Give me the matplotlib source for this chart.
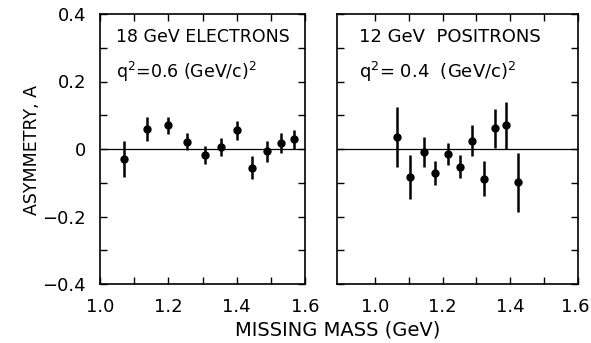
import matplotlib
matplotlib.use('Agg')
import matplotlib.pyplot as plt
import matplotlib.transforms as mtransforms
from matplotlib.ticker import MultipleLocator, FixedLocator

# left panel: 18 GeV electrons
mass_e = [1.07, 1.137, 1.198, 1.254, 1.306, 1.355, 1.40, 1.446, 1.488, 1.529, 1.568]
asym_e = [-0.030, 0.060, 0.070, 0.022, -0.018, 0.006, 0.055, -0.056, -0.007, 0.018, 0.029]
err_e = [0.054, 0.035, 0.025, 0.026, 0.027, 0.027, 0.028, 0.034, 0.032, 0.030, 0.028]

# right panel: 12 GeV positrons
mass_p = [1.064, 1.103, 1.144, 1.179, 1.216, 1.252, 1.287, 1.322, 1.355, 1.388, 1.422]
asym_p = [0.035, -0.083, -0.008, -0.071, -0.015, -0.052, 0.025, -0.088, 0.061, 0.070, -0.099]
err_p = [0.088, 0.065, 0.045, 0.036, 0.032, 0.035, 0.046, 0.051, 0.057, 0.070, 0.087]

x_labels = ['1.0', '1.2', '1.4', '1.6']
y_labels = ['\u22120.4', '\u22120.2', '0', '0.2', '0.4']

plt.rcParams['font.family'] = ['DejaVu Sans']
fig = plt.figure(figsize=(5.91, 3.43), dpi=100)
ax1 = fig.add_axes([100 / 591, 1 - 284 / 343, 205 / 591, 270 / 343])
ax2 = fig.add_axes([337 / 591, 1 - 284 / 343, 241 / 591, 270 / 343])


def style(ax, xlim, labels_y):
    ax.set_xlim(*xlim)
    ax.set_ylim(-0.4, 0.4)
    ax.axhline(0, color='black', lw=0.9)
    ax.xaxis.set_major_locator(FixedLocator([1.0, 1.2, 1.4, 1.6]))
    ax.set_xticklabels(x_labels)
    ax.xaxis.set_minor_locator(FixedLocator([1.1, 1.3, 1.5]))
    ax.yaxis.set_major_locator(FixedLocator([-0.4, -0.2, 0, 0.2, 0.4]))
    ax.yaxis.set_minor_locator(MultipleLocator(0.1))
    if labels_y:
        ax.set_yticklabels(y_labels)
    else:
        ax.set_yticklabels([])
    ax.tick_params(which='both', direction='in', top=True, right=True,
                   length=5, width=1, labelsize=13)
    ax.tick_params(axis='x', pad=10)
    ax.tick_params(axis='y', pad=10)
    for s in ax.spines.values():
        s.set_linewidth(1.2)


style(ax1, (1.0, 1.6), True)
style(ax2, (0.888, 1.6), False)

# last label of the right panel sits a bit inward so it stays on the page
last = ax2.get_xticklabels()[-1]
last.set_transform(last.get_transform() +
                   mtransforms.ScaledTranslation(-3 / 100, 0, fig.dpi_scale_trans))

ax1.errorbar(mass_e, asym_e, yerr=err_e, fmt='o', color='black',
             ms=5, elinewidth=1.8, capsize=0)
ax2.errorbar(mass_p, asym_p, yerr=err_p, fmt='o', color='black',
             ms=5, elinewidth=1.8, capsize=0)

ax1.text(0.08, 0.915, '18 GeV ELECTRONS', transform=ax1.transAxes,
         fontsize=12.5, va='center', ha='left')
ax1.text(0.08, 0.785, 'q$^2$=0.6 (GeV/c)$^2$', transform=ax1.transAxes,
         fontsize=12.5, va='center', ha='left')
ax2.text(0.09, 0.915, '12 GeV  POSITRONS', transform=ax2.transAxes,
         fontsize=13, va='center', ha='left')
ax2.text(0.09, 0.785, 'q$^2$= 0.4  (GeV/c)$^2$', transform=ax2.transAxes,
         fontsize=13, va='center', ha='left')

fig.text(32 / 591, 1 - 150 / 343, 'ASYMMETRY, A', rotation=90,
         ha='center', va='center', fontsize=12.5)
fig.text(338 / 591, 1 - 330 / 343, 'MISSING MASS (GeV)', ha='center',
         va='center', fontsize=14)

fig.savefig('out.png', dpi=100)
